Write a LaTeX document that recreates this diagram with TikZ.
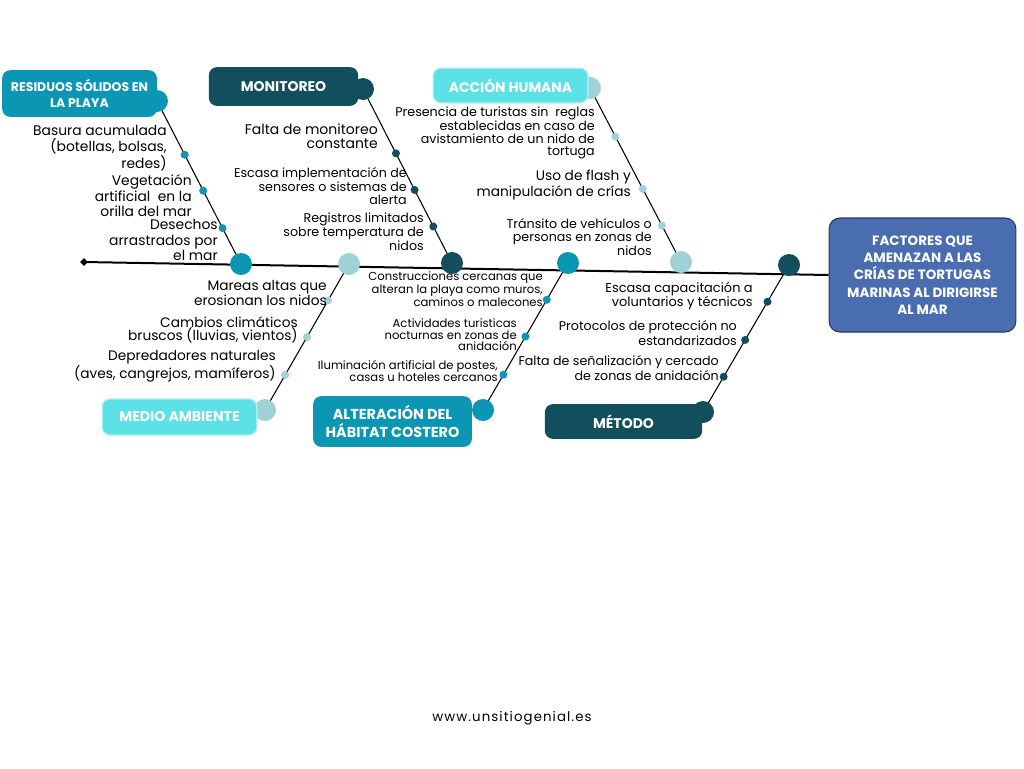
\documentclass[tikz,border=0pt]{standalone}
\usepackage{fontspec}
\setmainfont{Poppins}
\usetikzlibrary{positioning,backgrounds,shapes.geometric}
\definecolor{teal1}{HTML}{0B97B3}
\definecolor{navy1}{HTML}{134E5E}
\definecolor{cyan1}{HTML}{5CE1E6}
\definecolor{mist1}{HTML}{9FD2D5}
\definecolor{blue1}{HTML}{4A6DB2}
\definecolor{edge1}{HTML}{2B3A55}

\begin{document}
\begin{tikzpicture}[
  x=0.75pt, y=-0.75pt,
  catbox/.style={rounded corners=6pt, align=center, text=white, inner sep=0pt,
                 font=\fontsize{10.5}{12}\selectfont\bfseries},
  knob/.style={circle, minimum size=16.5pt, inner sep=0pt},
  hub/.style={circle, minimum size=16.5pt, inner sep=0pt},
  dot/.style={circle, minimum size=6pt, inner sep=0pt},
  lbl/.style={anchor=east, align=right, inner sep=0pt, font=\fontsize{10.4}{11.6}\selectfont},
  lbm/.style={lbl, font=\fontsize{10.3}{10.2}\selectfont},
  lbs/.style={lbl, font=\fontsize{9.5}{9.4}\selectfont},
  lbt/.style={lbl, font=\fontsize{8.7}{8.6}\selectfont},
  bone/.style={line width=0.8pt, black},
  spine/.style={line width=1.5pt, black}
]
\useasboundingbox (0,0) rectangle (1024,768);

% head and tail of the spine
\node[rounded corners=8pt, fill=blue1, draw=edge1, line width=0.8pt, text=white,
      minimum width=140pt, minimum height=85.5pt, align=center,
      font=\fontsize{10.1}{13}\selectfont\bfseries] (goal) at (922.5,275)
  {FACTORES QUE\\AMENAZAN A LAS\\CRÍAS DE TORTUGAS\\MARINAS AL DIRIGIRSE\\AL MAR};
\node[diamond, fill=black, minimum size=6pt, inner sep=0pt] (tail) at (84,262) {};

% hubs on the spine
\node[hub, fill=teal1] (hubA) at (241,264) {};
\node[hub, fill=mist1] (hubD) at (349,264) {};
\node[hub, fill=navy1] (hubB) at (452,263) {};
\node[hub, fill=teal1] (hubE) at (568,263) {};
\node[hub, fill=mist1] (hubC) at (681,262) {};
\node[hub, fill=navy1] (hubF) at (789,265) {};

% category knobs and boxes
\node[knob, fill=teal1] (knobA) at (157,101) {};
\node[knob, fill=navy1] (knobB) at (363,89) {};
\node[knob, fill=mist1] (knobC) at (590,88) {};
\node[knob, fill=mist1] (knobD) at (265,410) {};
\node[knob, fill=teal1] (knobE) at (483,410) {};
\node[knob, fill=navy1] (knobF) at (703,412) {};

\node[catbox, fill=teal1, minimum width=116pt, minimum height=35pt,
      font=\fontsize{9.4}{12}\selectfont\bfseries] (catA) at (79.5,93.5)
  {RESIDUOS SÓLIDOS EN\\LA PLAYA};
\node[catbox, fill=navy1, minimum width=112pt, minimum height=29pt] (catB) at (283.5,86.5) {MONITOREO};
\node[catbox, fill=cyan1, draw=cyan1!55!white, line width=1pt, minimum width=116pt,
      minimum height=26pt, font=\fontsize{10.4}{12}\selectfont\bfseries] (catC) at (510.5,85.5) {ACCIÓN HUMANA};
\node[catbox, fill=cyan1, draw=cyan1!55!white, line width=1pt, minimum width=116pt,
      minimum height=27pt, font=\fontsize{10.6}{12}\selectfont\bfseries] (catD) at (179.5,417) {MEDIO AMBIENTE};
\node[catbox, fill=teal1, minimum width=119pt, minimum height=38pt,
      font=\fontsize{10.8}{13.5}\selectfont\bfseries] (catE) at (392.5,421.5) {ALTERACIÓN DEL\\HÁBITAT COSTERO};
\node[catbox, fill=navy1, minimum width=118pt, minimum height=26pt] (catF) at (623.5,421.5) {MÉTODO};

% bones
\begin{scope}[on background layer]
\fill[white] (0,0) rectangle (1024,768);
\draw[spine] (tail.center) -- (goal.west);
\draw[bone] (knobA.center) -- (hubA.center)
  node[dot, fill=teal1, pos=.33] (a1) {}
  node[dot, fill=teal1, pos=.55] (a2) {}
  node[dot, fill=teal1, pos=.78] (a3) {};
\draw[bone] (knobB.center) -- (hubB.center)
  node[dot, fill=navy1, pos=.37] (b1) {}
  node[dot, fill=navy1, pos=.58] (b2) {}
  node[dot, fill=navy1, pos=.79] (b3) {};
\draw[bone] (knobC.center) -- (hubC.center)
  node[dot, fill=mist1, pos=.28] (c1) {}
  node[dot, fill=mist1, pos=.58] (c2) {}
  node[dot, fill=mist1, pos=.79] (c3) {};
\draw[bone] (hubD.center) -- (knobD.center)
  node[dot, fill=mist1, pos=.25] (d1) {}
  node[dot, fill=mist1, pos=.50] (d2) {}
  node[dot, fill=mist1, pos=.76] (d3) {};
\draw[bone] (hubE.center) -- (knobE.center)
  node[dot, fill=teal1, pos=.25] (e1) {}
  node[dot, fill=teal1, pos=.50] (e2) {}
  node[dot, fill=teal1, pos=.76] (e3) {};
\draw[bone] (hubF.center) -- (knobF.center)
  node[dot, fill=navy1, pos=.25] (f1) {}
  node[dot, fill=navy1, pos=.51] (f2) {}
  node[dot, fill=navy1, pos=.76] (f3) {};
\end{scope}

% causes
\node[lbl] (labA1) at (167,148) {Basura acumulada\\(botellas, bolsas,\\redes)};
\node[lbl] (labA2) at (192,196) {Vegetación\\artificial~ en la\\orilla del mar};
\node[lbl] (labA3) at (218,240) {Desechos\\arrastrados por\\el mar};

\node[lbl, font=\fontsize{10.5}{10.5}\selectfont] (labB1) at (378,136) {Falta de monitoreo\\constante};
\node[lbs] (labB2) at (407,186) {Escasa implementación de\\sensores o sistemas de\\alerta};
\node[lbs] (labB3) at (424,232) {Registros limitados\\sobre temperatura de\\nidos};

\node[lbs] (labC1) at (595,133) {Presencia de turistas sin~ reglas\\establecidas en caso de\\avistamiento de un nido de\\tortuga~};
\node[lbm] (labC2) at (631,185) {Uso de flash y\\manipulación de crías};
\node[lbs] (labC3) at (652,237) {Tránsito de vehículos o\\personas en zonas de\\nidos};

\node[lbm] (labD1) at (327,293) {Mareas altas que\\erosionan los nidos};
\node[lbm] (labD2) at (298,330) {Cambios climáticos\\bruscos (lluvias, vientos)};
\node[lbm] (labD3) at (276,366) {Depredadores naturales\\(aves, cangrejos, mamíferos)};

\node[lbt] (labE1) at (543,289) {Construcciones cercanas que\\alteran la playa como muros,\\caminos o malecones};
\node[lbt] (labE2) at (517,335) {Actividades turisticas\\nocturnas en zonas de\\anidación};
\node[lbt] (labE3) at (498,371) {Iluminación artificial de postes,\\casas u hoteles cercanos};

\node[lbs, font=\fontsize{9.7}{9.75}\selectfont] (labF1) at (753,296) {Escasa capacitación a\\voluntarios y técnicos};
\node[lbs] (labF2) at (737,333) {Protocolos de protección no\\estandarizados};
\node[lbs] (labF3) at (719,368) {Falta de señalización y cercado\\de zonas de anidación};

\node[font=\fontsize{10}{12}\selectfont\addfontfeatures{LetterSpace=8}] (site) at (512,718) {www.unsitiogenial.es};
\end{tikzpicture}
\end{document}
